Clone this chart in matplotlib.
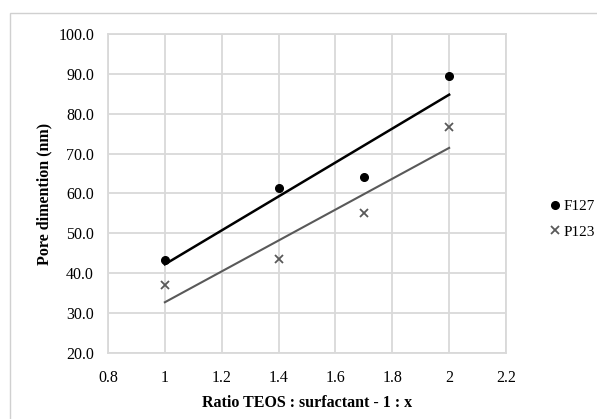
import numpy as np
import matplotlib
matplotlib.use("Agg")
import matplotlib.pyplot as plt
from matplotlib.patches import Rectangle
from matplotlib.lines import Line2D

ratio = [1.0, 1.4, 1.7, 2.0]
f127 = [43.3, 61.4, 64.2, 89.4]
p123 = [37.0, 43.5, 55.0, 76.7]
xticks = [0.8, 1.0, 1.2, 1.4, 1.6, 1.8, 2.0, 2.2]
xticklabels = ["0.8", "1", "1.2", "1.4", "1.6", "1.8", "2", "2.2"]
yticks = [20, 30, 40, 50, 60, 70, 80, 90, 100]

plt.rcParams['font.family'] = ['Liberation Serif', 'DejaVu Serif']

fig = plt.figure(figsize=(5.97, 4.19), dpi=100)
# outer chart border
fig.patches.append(Rectangle((10/597, -0.05), 1.1, 1 - 13/419 + 0.05,
                             transform=fig.transFigure, fill=False,
                             edgecolor='#d0d0d0', linewidth=1.0))

ax = fig.add_axes([108/597, 1 - 353/419, (506 - 108)/597, (353 - 34)/419])
ax.set_xlim(0.8, 2.2)
ax.set_ylim(20, 100)
ax.set_xticks(xticks)
ax.set_xticklabels(xticklabels)
ax.set_yticks(yticks)
ax.set_yticklabels([f"{v:.1f}" for v in yticks])
ax.grid(True, color='#d9d9d9', linewidth=1.3)
ax.set_axisbelow(True)
for s in ax.spines.values():
    s.set_color('#d9d9d9')
    s.set_linewidth(1.3)
ax.tick_params(length=0, labelsize=11.5)
ax.tick_params(axis='y', pad=10)
ax.tick_params(axis='x', pad=12)

x = np.array(ratio)
for ys, col, lw in [(f127, 'black', 1.8), (p123, '#595959', 1.5)]:
    m, b = np.polyfit(x, np.array(ys), 1)
    xx = np.array([x.min(), x.max()])
    ax.plot(xx, m * xx + b, color=col, linewidth=lw, zorder=2)

ax.plot(ratio, f127, linestyle='none', marker='o', markersize=5.5,
        color='black', zorder=3)
ax.plot(ratio, p123, linestyle='none', marker='x', markersize=5.5,
        markeredgewidth=1.3, color='#595959', zorder=3)

ax.set_xlabel("Ratio TEOS : surfactant - 1 : x", fontsize=11.5,
              fontweight='bold', labelpad=7)
ax.set_ylabel("Pore dimention (nm)", fontsize=11.5, fontweight='bold',
              labelpad=4)

handles = [Line2D([], [], linestyle='none', marker='o', markersize=5.5, color='black'),
           Line2D([], [], linestyle='none', marker='x', markersize=5.5,
                  markeredgewidth=1.3, color='#595959')]
fig.legend(handles, ["F127", "P123"], loc='center left',
           bbox_to_anchor=(539/597, 1 - 219/419), frameon=False,
           fontsize=11, handlelength=0.5, handletextpad=0.3,
           labelspacing=0.8, borderpad=0.3)

fig.savefig("out.png", dpi=100)
